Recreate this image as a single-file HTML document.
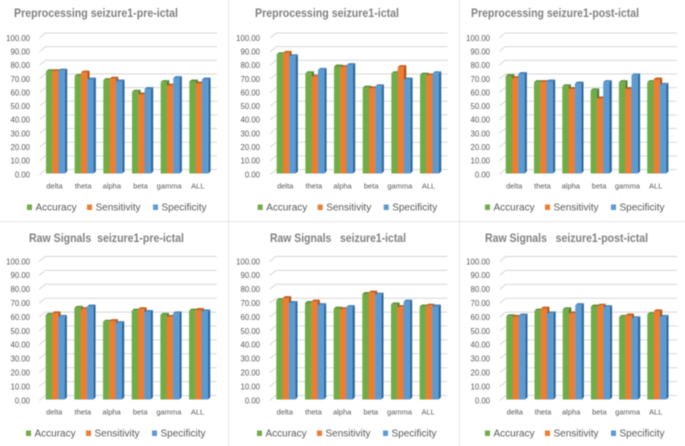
<!DOCTYPE html>
<html lang="en">
<head>
<meta charset="utf-8">
<title>Seizure classification charts</title>
<style>
html,body{margin:0;padding:0;background:#fff;width:685px;height:446px;overflow:hidden}
svg{display:block;filter:blur(0.5px)}
text{font-family:"Liberation Sans",sans-serif;white-space:pre}
</style>
</head>
<body>
<svg id="chart" xmlns="http://www.w3.org/2000/svg" width="685" height="446" viewBox="0 0 685 446"></svg>
<script>
const categories = ['delta', 'theta', 'alpha', 'beta', 'gamma', 'ALL'];
const seriesNames = ['Accuracy', 'Sensitivity', 'Specificity'];
const yTicks = [0, 10, 20, 30, 40, 50, 60, 70, 80, 90, 100];

const prePreAccuracy = [76, 72.5, 69.5, 61, 68, 68.5];
const prePreSensitivity = [76, 75, 70.5, 59, 65.5, 67];
const prePreSpecificity = [76.5, 70, 68.5, 63, 71, 70];

const preIctalAccuracy = [88.5, 74.5, 79.5, 64, 74.5, 73.5];
const preIctalSensitivity = [89.5, 72, 79, 63.5, 79, 73];
const preIctalSpecificity = [87, 77, 80.5, 65, 70, 74.5];

const prePostAccuracy = [72.5, 68, 65, 62, 68, 68];
const prePostSensitivity = [71, 68, 63, 56, 63, 70];
const prePostSpecificity = [74, 68.5, 67, 68, 73, 66];

const rawPreAccuracy = [62, 67, 57, 65, 62, 65];
const rawPreSensitivity = [63, 66, 57.5, 66, 60.5, 65.5];
const rawPreSpecificity = [60.5, 68, 56, 64, 63, 64.5];

const rawIctalAccuracy = [72.5, 70.5, 66.5, 77, 69.5, 68];
const rawIctalSensitivity = [74, 71.5, 66, 78, 67.5, 68.5];
const rawIctalSpecificity = [70.5, 69, 67.5, 76.5, 71.5, 68];

const rawPostAccuracy = [61, 65, 66, 68, 60.5, 62.5];
const rawPostSensitivity = [60.5, 66.5, 63, 68.5, 61.5, 64.5];
const rawPostSpecificity = [61.5, 63, 69, 67.5, 59.5, 60.5];

const svg = document.getElementById('chart');
const NS = 'http://www.w3.org/2000/svg';
const faceColors = ['#70ad47', '#ed7d31', '#5b9bd5'];
const topColors = ['#5f9639', '#c4601f', '#4a86bd'];
const sideColors = ['#4d7a30', '#a95418', '#2f6797'];

function make(tag, parent, attrs, content) {
  const el = document.createElementNS(NS, tag);
  for (const k in attrs) el.setAttribute(k, attrs[k]);
  if (content !== undefined) el.textContent = content;
  parent.appendChild(el);
  return el;
}

function drawPanel(p) {
  const group = make('g', svg, {});
  
  

  const yScale = v => p.y0 + (p.y100 - p.y0) * v / 100;
  const xScale = i => p.x0 + i * p.step;
  const barW = 6.3;
  const depth = 2.3;

  const title = make('text', group, {
    x: p.titleX, y: p.titleY, 'font-size': 11.5, 'font-weight': 'bold', fill: '#808080',
    textLength: p.titleW, lengthAdjust: 'spacingAndGlyphs'
  }, p.title);
  
  

  yTicks.forEach(t => {
    const y = yScale(t);
    const grid = make('path', group, {
      d: `M${p.x0 - 6.5} ${y}L${p.x0 - 0.5} ${y - 5}H${p.x0 + 171}`,
      fill: 'none', stroke: '#d6d6d6', 'stroke-width': 1
    });
    
    

    const label = make('text', group, {
      x: p.labelX, y: y + 2.8, 'font-size': 7.8, 'text-anchor': 'end', fill: '#595959'
    }, t.toFixed(2));
    
    
  });

  p.series.forEach((values, s) => {
    values.forEach((v, i) => {
      const x = xScale(i) + s * barW;
      const top = yScale(v) + 0.5;
      const bottom = p.y0 - 1;
      const side = make('path', group, {
        d: `M${x + barW} ${top}l${depth} -2V${bottom - 2}l${-depth} 2Z`,
        fill: sideColors[s]
      });
      
      

      const cap = make('path', group, {
        d: `M${x} ${top}l${depth} -2h${barW}l${-depth} 2Z`,
        fill: topColors[s]
      });
      
      

      const bar = make('rect', group, {
        x: x, y: top, width: barW, height: Math.max(0, bottom - top), fill: faceColors[s]
      });
      
      
    });
  });

  categories.forEach((c, i) => {
    const label = make('text', group, {
      x: xScale(i) + 8.5, y: p.y0 + 14, 'font-size': 7.5, 'text-anchor': 'middle', fill: '#595959'
    }, c);
    
    
  });

  const swatchOffsets = [27, 87, 153];
  seriesNames.forEach((name, s) => {
    const swatch = make('rect', group, {
      x: p.legendX + swatchOffsets[s], y: p.legendY - 2.5, width: 5, height: 5.5, fill: faceColors[s]
    });
    
    

    const label = make('text', group, {
      x: p.legendX + swatchOffsets[s] + 8.5, y: p.legendY + 3.5, 'font-size': 10, fill: '#595959'
    }, name);
    
    
  });
}

[[0, 221.5, 685, 221.5], [228.5, 0, 228.5, 446], [459.5, 0, 459.5, 446]].forEach(c => {
  const line = make('line', svg, { x1: c[0], y1: c[1], x2: c[2], y2: c[3], stroke: '#e4e4e4', 'stroke-width': 1 });
  
  
});

drawPanel({ id: 'preprocessing-pre-ictal', title: 'Preprocessing seizure1-pre-ictal',
  titleX: 14, titleY: 17, titleW: 164, x0: 46, step: 28.67, labelX: 30, y0: 174.5, y100: 38,
  legendX: 0, legendY: 207,
  series: [prePreAccuracy, prePreSensitivity, prePreSpecificity] });
drawPanel({ id: 'preprocessing-ictal', title: 'Preprocessing seizure1-ictal',
  titleX: 255, titleY: 17, titleW: 144, x0: 276.7, step: 28.67, labelX: 260, y0: 174.5, y100: 38,
  legendX: 230.7, legendY: 207,
  series: [preIctalAccuracy, preIctalSensitivity, preIctalSpecificity] });
drawPanel({ id: 'preprocessing-post-ictal', title: 'Preprocessing seizure1-post-ictal',
  titleX: 471, titleY: 17, titleW: 168, x0: 505.7, step: 28.3, labelX: 490, y0: 174.5, y100: 38,
  legendX: 458, legendY: 207,
  series: [prePostAccuracy, prePostSensitivity, prePostSpecificity] });
drawPanel({ id: 'raw-pre-ictal', title: 'Raw Signals  seizure1-pre-ictal',
  titleX: 29, titleY: 242, titleW: 155, x0: 45.7, step: 28.67, labelX: 30, y0: 400.5, y100: 261.5,
  legendX: -1, legendY: 433,
  series: [rawPreAccuracy, rawPreSensitivity, rawPreSpecificity] });
drawPanel({ id: 'raw-ictal', title: 'Raw Signals   seizure1-ictal',
  titleX: 270, titleY: 242, titleW: 136, x0: 276.3, step: 28.67, labelX: 260, y0: 400.5, y100: 261.5,
  legendX: 230, legendY: 433,
  series: [rawIctalAccuracy, rawIctalSensitivity, rawIctalSpecificity] });
drawPanel({ id: 'raw-post-ictal', title: 'Raw Signals   seizure1-post-ictal',
  titleX: 485, titleY: 242, titleW: 163, x0: 506.3, step: 28.2, labelX: 490, y0: 400.5, y100: 261.5,
  legendX: 458, legendY: 433,
  series: [rawPostAccuracy, rawPostSensitivity, rawPostSpecificity] });
</script>
</body>
</html>
